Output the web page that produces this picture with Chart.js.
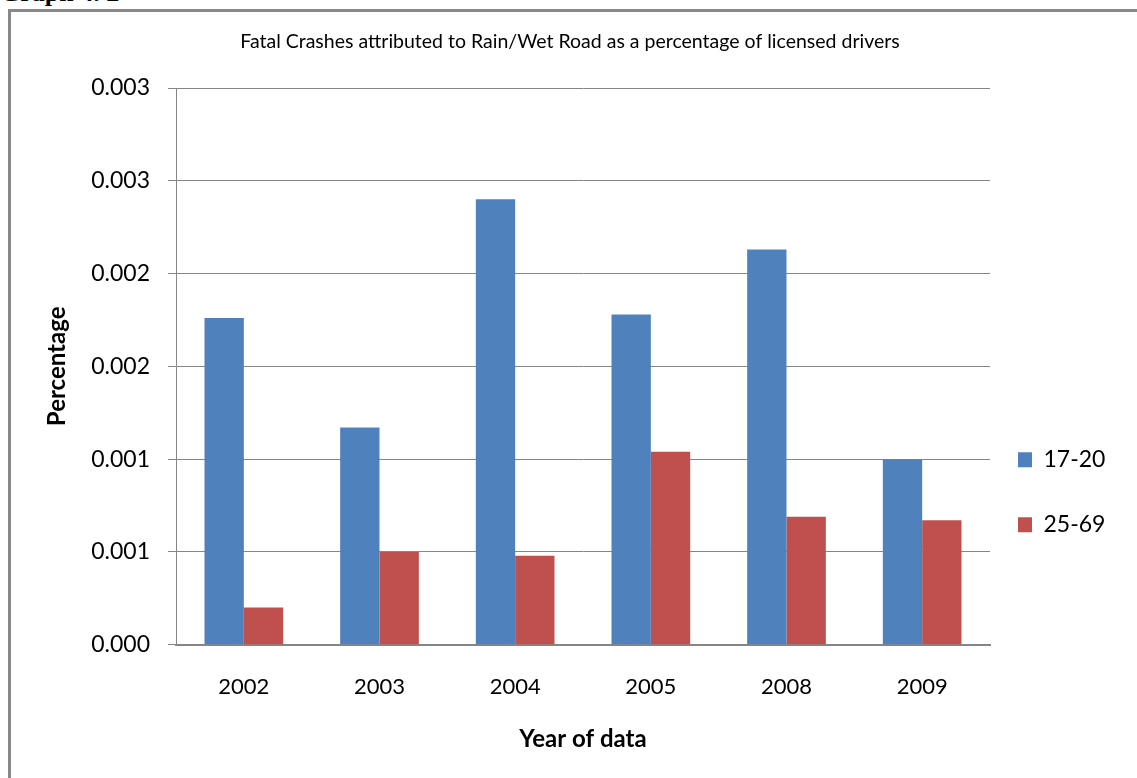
<!DOCTYPE html>
<html>
<head>
<meta charset="utf-8">
<title>Fatal Crashes attributed to Rain/Wet Road</title>
<script src="https://cdn.jsdelivr.net/npm/chart.js@4.4.1/dist/chart.umd.min.js"></script>
<style>
  html, body { margin: 0; padding: 0; background: #fff; overflow: hidden; }
  #caption {
    position: absolute; left: 0; top: -20px;
    font: bold 26px/26px "Liberation Serif", "DejaVu Serif", serif;
    color: #000; white-space: nowrap;
  }
  #frame {
    position: absolute; left: 8px; top: 9px; width: 2000px; height: 2000px;
    border-left: 3px solid #888; border-top: 3px solid #888;
  }
  #wrap { position: absolute; left: 0; top: 0; width: 1137px; height: 778px; }
</style>
</head>
<body>
<div id="caption">Graph 4. 2</div>
<div id="frame"></div>
<div id="wrap"><canvas id="chart" width="1137" height="778"></canvas></div>
<script>
// Fatal crashes on rain / wet roads, as a percentage of licensed drivers
const years = ['2002', '2003', '2004', '2005', '2008', '2009'];
const drivers17to20 = [0.00176, 0.00117, 0.00240, 0.00178, 0.00213, 0.00100];
const drivers25to69 = [0.00020, 0.00050, 0.00048, 0.00104, 0.00069, 0.00067];
// axis labels are shown to three decimals, so half-steps round up
const yTickLabels = ['0.000', '0.001', '0.001', '0.002', '0.002', '0.003', '0.003'];

const FONT = 'Lato, "Liberation Sans", sans-serif';
const GRID = '#868686';

// Sit the legend entries just right of the plot, level with its lower half
const legendDock = {
  id: 'legendDock',
  afterLayout(chart) {
    const lg = chart.legend;
    const area = chart.chartArea;
    const pad = lg.options.labels.padding;
    const dx = area.right + 28 - pad - lg.left;
    const dy = area.top + area.height * 0.647 - pad - lg.top;
    lg.left += dx;
    lg.right = chart.width;
    lg.width = lg.right - lg.left;
    lg.top += dy; lg.bottom += dy;
  }
};

new Chart(document.getElementById('chart'), {
  type: 'bar',
  data: {
    labels: years,
    datasets: [
      { label: '17-20', data: drivers17to20, backgroundColor: '#4F81BD', borderWidth: 0 },
      { label: '25-69', data: drivers25to69, backgroundColor: '#C0504D', borderWidth: 0 }
    ]
  },
  options: {
    responsive: false,
    animation: false,
    events: [],
    categoryPercentage: 0.58,
    barPercentage: 1.0,
    layout: { padding: { left: 30, right: 27, top: 0, bottom: 0 } },
    plugins: {
      title: {
        display: true,
        text: 'Fatal Crashes attributed to Rain/Wet Road as a percentage of licensed drivers',
        color: '#000',
        font: { family: FONT, size: 19.5, weight: 'normal' },
        padding: { top: 30.3, bottom: 34.3 }
      },
      legend: {
        display: true,
        position: 'right',
        align: 'start',
        fullSize: false,
        maxWidth: 120,
        labels: {
          boxWidth: 14,
          boxHeight: 15,
          padding: 42,
          color: '#000',
          font: { family: FONT, size: 23 }
        }
      },
      tooltip: { enabled: false }
    },
    scales: {
      x: {
        grid: { display: false, drawTicks: false },
        border: { display: true, color: GRID, width: 2 },
        ticks: { color: '#000', padding: 29, font: { family: FONT, size: 22 } },
        title: {
          display: true, text: 'Year of data', color: '#000',
          font: { family: FONT, size: 24, weight: 'bold' },
          padding: { top: 0, bottom: 24.6 }
        },
        afterFit(scale) { scale.height = 133.3; }
      },
      y: {
        min: 0,
        max: 0.003,
        ticks: {
          stepSize: 0.0005,
          color: '#000',
          padding: 18,
          font: { family: FONT, size: 23 },
          callback: (value, index) => yTickLabels[index]
        },
        grid: { color: GRID, lineWidth: 1, drawTicks: true, tickLength: 8, tickColor: GRID },
        border: { display: true, color: GRID, width: 1 },
        title: {
          display: true, text: 'Percentage', color: '#000',
          font: { family: FONT, size: 24, weight: 'bold' },
          padding: { top: 13.1, bottom: 0 }
        },
        afterFit(scale) { scale.width = 146; }
      }
    }
  },
  plugins: [legendDock]
});
</script>
</body>
</html>
